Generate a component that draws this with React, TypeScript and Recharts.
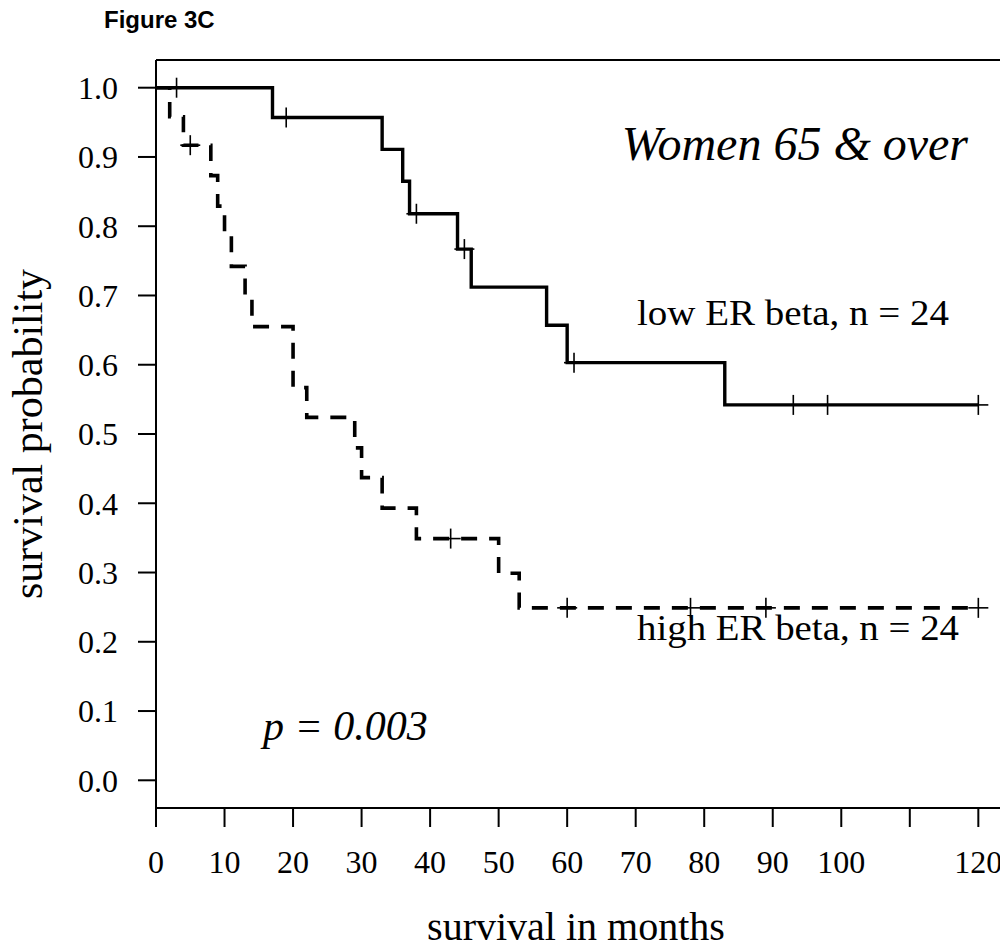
import React from 'react';
import { ComposedChart, Line, XAxis, YAxis, ReferenceLine } from 'recharts';

// Kaplan-Meier step points (time in months, survival probability)
const lowTimes = [0, 17, 33, 36, 37, 44, 46, 57, 60, 83, 120];
const lowSurv = [1.0, 0.957, 0.911, 0.865, 0.818, 0.767, 0.712, 0.657, 0.603, 0.542, 0.542];
const highTimes = [0, 2, 4, 8, 9, 10, 11, 13, 14, 20, 22, 29, 30, 33, 38, 50, 53, 120];
const highSurv = [1.0, 0.958, 0.917, 0.873, 0.829, 0.786, 0.742, 0.698, 0.655, 0.567, 0.524, 0.48, 0.437, 0.393, 0.349, 0.299, 0.249, 0.249];

// Censoring marks
const lowCensorTimes = [3, 19, 38, 45, 61, 93, 98, 120];
const lowCensorSurv = [1.0, 0.957, 0.818, 0.767, 0.603, 0.542, 0.542, 0.542];
const highCensorTimes = [5, 43, 60, 78, 89, 120];
const highCensorSurv = [0.917, 0.349, 0.249, 0.249, 0.249, 0.249];

const xTicks = [0, 10, 20, 30, 40, 50, 60, 70, 80, 90, 100, 110, 120];
const xTickLabels = ['0', '10', '20', '30', '40', '50', '60', '70', '80', '90', '100', '', '120'];
const yTicks = [0, 0.1, 0.2, 0.3, 0.4, 0.5, 0.6, 0.7, 0.8, 0.9, 1.0];

const zip = (ts: number[], ss: number[]) => ts.map((t, i) => ({ t, s: ss[i] }));
const lowData = zip(lowTimes, lowSurv);
const highData = zip(highTimes, highSurv);
const lowCensor = zip(lowCensorTimes, lowCensorSurv);
const highCensor = zip(highCensorTimes, highCensorSurv);

const SERIF = '"Liberation Serif", "Times New Roman", serif';

const plusDot = (props: any) => {
  const { cx, cy, index } = props;
  if (cx == null || cy == null) return <g key={`p-${index}`} />;
  return (
    <g key={`p-${index}`}>
      <line x1={cx - 10} y1={cy} x2={cx + 10} y2={cy} stroke="#000" strokeWidth={1.6} />
      <line x1={cx} y1={cy - 10} x2={cx} y2={cy + 10} stroke="#000" strokeWidth={1.6} />
    </g>
  );
};

export default function App() {
  return (
    <div style={{ position: 'relative', width: 1000, height: 940 }}>
      <ComposedChart width={1000} height={940} margin={{ top: 52, right: 0, bottom: 0, left: 0 }}>
        <XAxis
          type="number"
          dataKey="t"
          domain={[0, 124.33]}
          ticks={xTicks}
          allowDataOverflow
          height={140}
          tickSize={19}
          tickMargin={23}
          axisLine={{ stroke: '#000', strokeWidth: 2 }}
          tickLine={{ stroke: '#000', strokeWidth: 2 }}
          tick={{ fill: '#000', fontSize: 32, fontFamily: SERIF }}
          tickFormatter={(v: number) => xTickLabels[xTicks.indexOf(v)] ?? ''}
          interval={0}
        />
        <YAxis
          type="number"
          domain={[-0.04, 1.04]}
          ticks={yTicks}
          allowDataOverflow
          width={148}
          tickSize={18}
          tickMargin={20}
          axisLine={{ stroke: '#000', strokeWidth: 2 }}
          tickLine={{ stroke: '#000', strokeWidth: 2 }}
          tick={{ fill: '#000', fontSize: 32, fontFamily: SERIF }}
          tickFormatter={(v: number) => v.toFixed(1)}
          interval={0}
        />
        <ReferenceLine y={1.04} stroke="#000" strokeWidth={2} />
        <Line
          data={lowData}
          dataKey="s"
          type="stepAfter"
          stroke="#000"
          strokeWidth={3.4}
          dot={false}
          activeDot={false}
          isAnimationActive={false}
        />
        <Line
          data={highData}
          dataKey="s"
          type="stepAfter"
          stroke="#000"
          strokeWidth={3.6}
          strokeDasharray="16 12"
          dot={false}
          activeDot={false}
          isAnimationActive={false}
        />
        <Line
          data={lowCensor}
          dataKey="s"
          stroke="none"
          dot={plusDot}
          activeDot={false}
          isAnimationActive={false}
        />
        <Line
          data={highCensor}
          dataKey="s"
          stroke="none"
          dot={plusDot}
          activeDot={false}
          isAnimationActive={false}
        />
      </ComposedChart>
      <svg
        width={1008}
        height={948}
        style={{ position: 'absolute', left: -8, top: -8, pointerEvents: 'none' }}
      >
        <text x={104} y={28} fontFamily='"Liberation Sans", Arial, sans-serif' fontWeight="bold" fontSize={24} fill="#000">
          Figure 3C
        </text>
        <text x={968} y={160} textAnchor="end" fontFamily={SERIF} fontStyle="italic" fontSize={48} fill="#000">
          Women 65 &amp; over
        </text>
        <text x={637} y={325} fontFamily={SERIF} fontSize={35} textLength={312} lengthAdjust="spacingAndGlyphs" fill="#000">
          low ER beta, n = 24
        </text>
        <text x={637} y={640} fontFamily={SERIF} fontSize={35} textLength={322} lengthAdjust="spacingAndGlyphs" fill="#000">
          high ER beta, n = 24
        </text>
        <text x={263} y={740} fontFamily={SERIF} fontStyle="italic" fontSize={42} fill="#000">
          p = 0.003
        </text>
        <text
          x={42}
          y={434}
          textAnchor="middle"
          transform="rotate(-90, 42, 434)"
          fontFamily={SERIF}
          fontSize={42}
          fill="#000"
        >
          survival probability
        </text>
        <text x={576} y={940} textAnchor="middle" fontFamily={SERIF} fontSize={40} fill="#000">
          survival in months
        </text>
      </svg>
    </div>
  );
}
